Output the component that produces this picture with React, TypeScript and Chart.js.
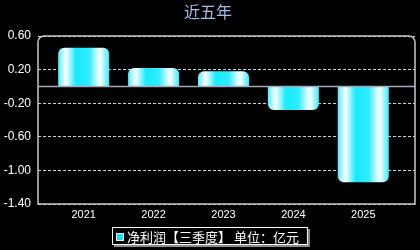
import React, { useEffect, useRef } from "react";
import { Chart, registerables } from "chart.js";

Chart.register(...registerables);

const titleText = "近五年";
const years = ["2021", "2022", "2023", "2024", "2025"];
const netProfit = [0.46, 0.22, 0.18, -0.28, -1.14];
const yTicks = [0.6, 0.2, -0.2, -0.6, -1.0, -1.4];
const seriesLabel = "净利润【三季度】 单位：亿元";

const CJK = '"Noto Sans CJK SC", "Noto Sans", sans-serif';
const LAT = '"Liberation Sans", Arial, sans-serif';

export default function App() {
  const ref = useRef<HTMLCanvasElement | null>(null);

  useEffect(() => {
    document.body.style.margin = "0";
    document.body.style.background = "#000";
    const canvas = ref.current;
    if (!canvas) return;

    const barGradient = (c: any) => {
      const chart = c.chart;
      const area = chart.chartArea;
      if (!area || c.dataIndex === undefined) return "#22eaff";
      const xs = chart.scales.x;
      const cx = xs.getPixelForValue(c.dataIndex);
      const w = Math.abs(xs.getPixelForValue(1) - xs.getPixelForValue(0)) * 0.73;
      const g = chart.ctx.createLinearGradient(cx - w / 2, 0, cx + w / 2, 0);
      g.addColorStop(0, "#50eeff");
      g.addColorStop(0.15, "#ffffff");
      g.addColorStop(0.35, "#18eaff");
      g.addColorStop(0.6, "#30ecff");
      g.addColorStop(0.82, "#ffffff");
      g.addColorStop(1, "#38ecff");
      return g;
    };

    const decor = {
      id: "decor",
      afterDatasetsDraw(chart: any) {
        const { ctx, chartArea: a, scales } = chart;
        const y0 = scales.y.getPixelForValue(0);
        ctx.save();
        ctx.strokeStyle = "#a8a8b8";
        ctx.lineWidth = 1.5;
        ctx.beginPath();
        ctx.moveTo(a.left, y0);
        ctx.lineTo(a.right, y0);
        ctx.stroke();
        ctx.restore();
      },
      afterDraw(chart: any) {
        const { ctx, chartArea: a, width } = chart;
        ctx.save();
        const r = 6;
        ctx.strokeStyle = "#c8c8c8";
        ctx.lineWidth = 1.5;
        ctx.beginPath();
        ctx.moveTo(a.left, a.bottom);
        ctx.lineTo(a.left, a.top + r);
        ctx.arcTo(a.left, a.top, a.left + r, a.top, r);
        ctx.lineTo(a.right - r, a.top);
        ctx.arcTo(a.right, a.top, a.right, a.top + r, r);
        ctx.lineTo(a.right, a.bottom);
        ctx.closePath();
        ctx.stroke();

        ctx.fillStyle = "#a4bce6";
        ctx.font = `16px ${CJK}`;
        ctx.textAlign = "center";
        ctx.textBaseline = "middle";
        ctx.fillText(titleText, width / 2 - 2, 12);

        ctx.font = `13px ${CJK}`;
        const tw = ctx.measureText(seriesLabel).width;
        const bw = tw + 24;
        const bh = 18;
        const bx = Math.round(width / 2 - bw / 2);
        const by = 227;
        ctx.fillStyle = "#8a8a8a";
        ctx.fillRect(bx + 2, by + 2, bw, bh);
        ctx.fillStyle = "#000";
        ctx.fillRect(bx, by, bw, bh);
        ctx.strokeStyle = "#ffffff";
        ctx.lineWidth = 1;
        ctx.strokeRect(bx + 0.5, by + 0.5, bw - 1, bh - 1);
        ctx.fillStyle = "#22d8f0";
        ctx.fillRect(bx + 4, by + 6, 8, 8);
        ctx.strokeStyle = "#d0f8ff";
        ctx.strokeRect(bx + 4.5, by + 6.5, 7, 7);
        ctx.fillStyle = "#ffffff";
        ctx.textAlign = "left";
        ctx.textBaseline = "middle";
        ctx.fillText(seriesLabel, bx + 15, by + bh / 2 + 1);
        ctx.restore();
      },
    };

    const chart = new Chart(canvas, {
      type: "bar",
      data: {
        datasets: [
          {
            label: seriesLabel,
            data: years.map((_, i) => ({ x: i, y: netProfit[i] })),
            backgroundColor: barGradient,
            borderWidth: 0,
            borderRadius: 6,
            borderSkipped: "start",
            categoryPercentage: 1,
            barPercentage: 0.73,
          },
        ],
      },
      options: {
        animation: false,
        responsive: false,
        maintainAspectRatio: false,
        layout: { padding: { left: 0, right: 5, top: 36, bottom: 0 } },
        plugins: {
          legend: { display: false },
          title: { display: false },
          tooltip: { enabled: false },
        },
        scales: {
          x: {
            type: "linear",
            offset: false,
            min: -0.654,
            max: 4.74,
            grid: { display: false, drawTicks: false, offset: false },
            border: { display: false },
            afterBuildTicks: (s: any) => {
              s.ticks = years.map((_, i) => ({ value: i }));
            },
            afterFit: (s: any) => {
              s.height = 46;
            },
            ticks: {
              color: "#ffffff",
              font: { family: LAT, size: 11 },
              padding: 4,
              autoSkip: false,
              maxRotation: 0,
              callback: (v: any) => years[Math.round(Number(v))] ?? "",
            },
          },
          y: {
            min: -1.4,
            max: 0.6,
            afterBuildTicks: (s: any) => {
              s.ticks = yTicks.map((v) => ({ value: v }));
            },
            afterFit: (s: any) => {
              s.width = 38;
            },
            grid: { color: "#b8dce4", lineWidth: 1, drawTicks: false },
            border: { display: false, dash: [3, 2] },
            ticks: {
              color: "#ffffff",
              font: { family: LAT, size: 12 },
              padding: 7,
              callback: (v: any) => Number(v).toFixed(2),
            },
          },
        },
      },
      plugins: [decor],
    });

    return () => chart.destroy();
  }, []);

  return (
    <div style={{ width: 420, height: 250, background: "#000" }}>
      <canvas ref={ref} width={420} height={250} style={{ display: "block" }} />
    </div>
  );
}
